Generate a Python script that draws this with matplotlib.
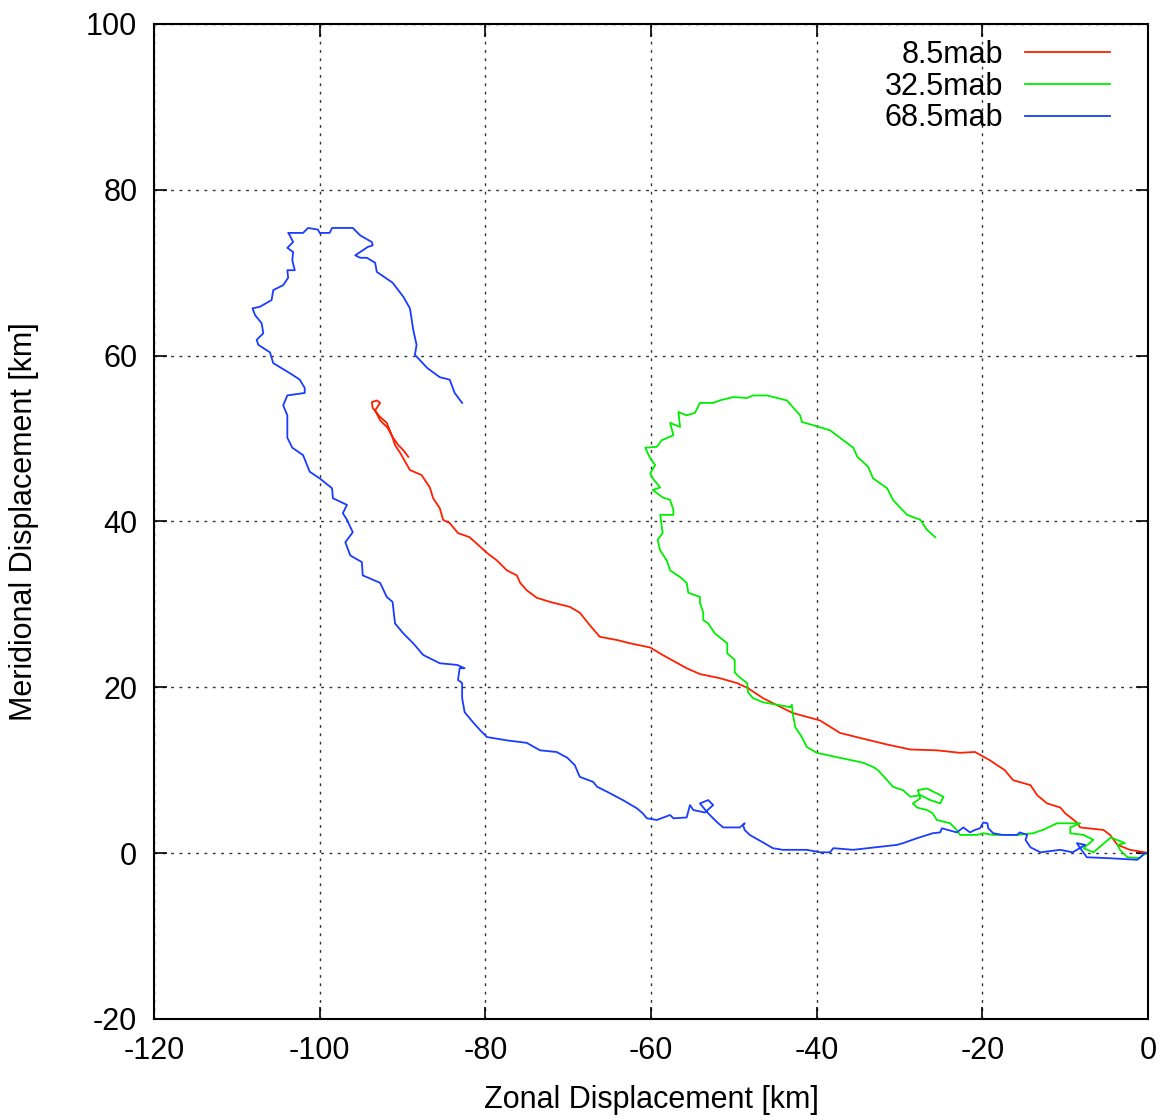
import matplotlib
matplotlib.use("Agg")
import matplotlib.pyplot as plt

plt.rcParams["font.family"] = ["Liberation Sans", "DejaVu Sans"]
plt.rcParams["axes.unicode_minus"] = False

# progressive vector paths [km]
red_x = [0, -0.4, -2.2, -3.7, -4.6, -5.4, -8.2, -8.6, -10.0, -10.6, -12.2, -13.4, -14.2, -16.3,
         -17.3, -19.1, -20.9, -22.7, -25.5, -28.7, -31.5, -34.8, -37.2, -39.6, -42.9, -46.5,
         -48.3, -49.6, -51.7, -54.1, -55.7, -58.6, -60.1, -62.5, -64.1, -66.2, -67.4, -68.6,
         -69.8, -72.2, -73.8, -75.0, -75.8, -76.2, -77.4, -78.6, -79.8, -80.9, -81.9, -83.3,
         -84.3, -85.1, -85.5, -86.3, -86.7, -87.7, -89.1, -90.3, -90.9, -91.3, -91.9, -92.7,
         -93.6, -93.7, -93.1, -92.7, -93.3, -92.7, -91.8, -91.2, -90.5, -89.9, -89.3]
red_y = [0, 0.1, 0.4, 1.0, 2.2, 2.8, 3.1, 3.7, 4.8, 5.5, 6.0, 7.0, 8.2, 8.8,
         10.0, 11.2, 12.2, 12.1, 12.4, 12.5, 13.1, 13.9, 14.5, 16.0, 16.9, 18.7,
         19.9, 20.5, 21.1, 21.6, 22.3, 23.9, 24.8, 25.3, 25.7, 26.1, 27.5, 29.0,
         29.7, 30.3, 30.8, 31.7, 32.6, 33.5, 34.1, 35.3, 36.2, 37.2, 38.1, 38.6,
         39.8, 40.2, 41.6, 42.8, 44.1, 45.6, 46.2, 48.3, 49.2, 50.4, 51.9, 52.6,
         53.7, 54.4, 54.6, 54.3, 53.4, 52.2, 51.3, 50.2, 49.2, 48.6, 47.8]

green_x = [0, -0.6, -1.0, -2.5, -3.4, -3.7, -2.8, -4.5, -6.6, -7.8, -6.6, -7.8, -9.4, -9.4,
           -8.2, -11.0, -12.7, -13.9, -15.8, -18.7, -19.9, -20.6, -22.7, -23.1, -23.9, -25.5,
           -26.0, -26.7, -27.9, -28.4, -27.5, -27.8, -26.7, -25.5, -24.7, -25.1, -26.3, -27.5,
           -28.7, -29.6, -30.8, -31.5, -32.6, -33.2, -34.4, -37.2, -40.0, -41.2, -41.8, -42.6,
           -42.9, -43.0, -43.2, -44.8, -46.5, -47.7, -48.3, -48.4, -49.3, -49.9, -49.9, -50.8,
           -50.8, -52.3, -53.1, -53.7, -53.7, -54.1, -54.1, -55.5, -55.7, -56.5, -57.7, -58.1,
           -58.9, -59.2, -58.6, -58.9, -57.3, -57.3, -57.7, -58.6, -59.8, -58.9, -59.8, -60.1,
           -59.5, -60.1, -60.7, -59.3, -58.7, -57.3, -57.7, -56.5, -56.7, -55.7, -54.7, -54.1,
           -52.5, -51.7, -50.1, -48.4, -47.7, -46.0, -43.6, -42.9, -42.0, -41.8, -40.4, -38.4,
           -37.2, -35.6, -35.1, -33.8, -33.2, -31.5, -30.8, -29.1, -27.5, -26.7, -25.7]
green_y = [0, -0.2, -0.6, -0.5, 0.4, 1.0, 1.2, 1.9, 0.1, 0.6, 1.6, 2.2, 2.4, 3.1,
           3.6, 3.6, 2.8, 2.4, 2.2, 2.2, 2.4, 2.2, 2.2, 2.8, 3.6, 4.0,
           4.8, 5.2, 5.5, 6.0, 6.6, 7.6, 7.8, 7.2, 6.8, 6.0, 6.4, 7.0,
           6.8, 7.6, 8.0, 8.8, 10.0, 10.4, 10.9, 11.5, 12.1, 12.8, 14.0, 15.2,
           16.9, 17.9, 17.6, 17.9, 18.2, 18.7, 19.4, 20.5, 21.2, 21.8, 23.3, 24.1,
           25.3, 26.5, 27.7, 28.1, 29.0, 30.2, 30.9, 31.4, 32.6, 33.3, 34.1, 35.3,
           36.5, 37.8, 38.6, 40.8, 40.8, 41.4, 42.6, 42.9, 43.8, 44.1, 45.2, 45.8,
           46.8, 47.6, 48.9, 49.0, 49.8, 50.4, 51.9, 51.4, 53.2, 52.8, 53.1, 54.3,
           54.3, 54.6, 55.0, 54.9, 55.2, 55.2, 54.6, 53.8, 52.8, 52.0, 51.6, 51.0,
           50.1, 48.9, 47.8, 46.6, 45.2, 44.0, 42.6, 40.8, 40.2, 39.0, 38.1]

blue_x = [0, -0.4, -1.3, -3.0, -4.9, -7.4, -8.2, -8.6, -7.6, -9.1, -10.6, -13.0, -14.2, -14.8,
          -14.6, -15.5, -15.8, -17.6, -18.7, -19.3, -19.4, -19.9, -20.3, -20.9, -21.5, -22.3,
          -23.1, -24.9, -25.1, -26.0, -27.9, -29.6, -30.3, -33.9, -35.6, -38.0, -38.4, -39.6,
          -41.2, -44.1, -45.3, -46.5, -48.1, -48.7, -48.9, -48.7, -49.3, -51.3, -52.0, -53.2,
          -53.7, -54.1, -53.1, -52.5, -53.5, -54.9, -55.3, -55.7, -57.3, -57.7, -59.3, -60.5,
          -61.0, -61.7, -63.4, -65.3, -66.5, -67.0, -68.6, -69.2, -70.1, -71.4, -73.4, -75.0,
          -77.4, -79.8, -80.6, -81.5, -82.5, -82.8, -82.8, -83.3, -83.1, -82.5, -83.4, -85.5,
          -87.5, -88.7, -89.9, -90.9, -91.2, -91.9, -92.7, -94.8, -94.9, -96.3, -96.9, -96.0,
          -96.7, -97.2, -96.7, -98.4, -98.5, -100.0, -101.2, -102.0, -103.3, -103.9, -103.9, -104.4,
          -103.9, -101.8, -101.8, -102.4, -103.3, -105.6, -106.0, -107.4, -107.6, -106.8, -107.0, -107.8,
          -108.1, -107.2, -105.8, -105.6, -104.4, -103.8, -103.9, -103.0, -103.3, -103.2, -103.9, -103.2,
          -103.6, -103.8, -102.0, -101.4, -100.2, -100.0, -98.8, -98.5, -96.0, -95.1, -93.7, -93.6,
          -94.2, -95.7, -95.1, -94.3, -93.3, -93.1, -91.2, -89.9, -89.1, -88.7, -88.3, -88.5,
          -87.0, -85.5, -84.3, -83.7, -82.8]
blue_y = [0, 0, -0.8, -0.7, -0.6, -0.5, 0.6, 1.2, 1.0, 0.1, 0.4, 0.1, 0.7, 1.6,
          2.2, 2.5, 2.2, 2.2, 2.4, 3.0, 3.6, 3.7, 3.0, 2.8, 2.5, 3.1,
          2.5, 3.0, 2.5, 2.4, 1.8, 1.2, 1.0, 0.6, 0.4, 0.6, 0.1, 0.1,
          0.4, 0.4, 0.6, 1.3, 2.2, 2.8, 3.4, 3.6, 3.1, 3.1, 3.7, 4.9,
          5.5, 6.0, 6.4, 5.8, 4.9, 5.2, 5.8, 4.3, 4.2, 4.6, 4.0, 4.2,
          4.8, 5.4, 6.4, 7.4, 8.0, 8.6, 9.2, 10.6, 11.5, 12.2, 12.4, 13.3,
          13.6, 14.0, 14.8, 15.8, 17.0, 18.7, 20.5, 20.9, 22.3, 22.3, 22.7, 22.9,
          23.9, 25.3, 26.5, 27.7, 30.3, 30.9, 32.6, 33.5, 35.1, 35.9, 37.5, 38.7,
          40.2, 41.0, 42.0, 42.8, 44.0, 45.2, 46.0, 48.0, 48.9, 50.1, 52.8, 54.0,
          55.2, 55.5, 56.1, 57.1, 57.7, 59.1, 60.4, 61.3, 61.9, 62.7, 63.9, 64.9,
          65.7, 65.9, 66.7, 67.9, 68.5, 69.4, 70.3, 70.3, 71.5, 72.5, 73.0, 73.7,
          74.5, 74.8, 74.8, 75.4, 75.2, 74.8, 74.8, 75.4, 75.4, 74.5, 73.7, 73.3,
          73.1, 72.1, 71.8, 71.8, 71.2, 70.1, 68.8, 67.1, 65.7, 63.1, 61.3, 60.1,
          58.5, 57.4, 57.1, 55.5, 54.3]

labels = ["8.5mab", "32.5mab", "68.5mab"]
x_ticks = [-120, -100, -80, -60, -40, -20, 0]
y_ticks = [-20, 0, 20, 40, 60, 80, 100]

fig = plt.figure(figsize=(11.68, 11.2), dpi=100)
ax = fig.add_axes([0.1318, 0.0902, 0.8512, 0.8884])

ax.plot(red_x, red_y, color="#ff2000", lw=1.3, label=labels[0])
ax.plot(green_x, green_y, color="#00ee00", lw=1.3, label=labels[1])
ax.plot(blue_x, blue_y, color="#1a3cff", lw=1.3, label=labels[2])

ax.set_xlim(-120, 0)
ax.set_ylim(-20, 100)
ax.set_xticks(x_ticks)
ax.set_yticks(y_ticks)
ax.tick_params(direction="in", top=True, right=True, length=9, width=1.2,
               labelsize=22, pad=12)
ax.grid(True, color="black", linestyle=(0, (2, 4)), linewidth=1, alpha=0.8)
for s in ax.spines.values():
    s.set_linewidth(1.5)

ax.set_xlabel("Zonal Displacement [km]", fontsize=22, labelpad=14)
ax.set_ylabel("Meridional Displacement [km]", fontsize=22, labelpad=34)

leg = ax.legend(loc="upper right", bbox_to_anchor=(0.974, 0.996), frameon=False,
                markerfirst=False, fontsize=22, handlelength=2.8, handletextpad=0.7,
                labelspacing=0.05, borderaxespad=0)

plt.savefig("out.png", dpi=100)
plt.close()
